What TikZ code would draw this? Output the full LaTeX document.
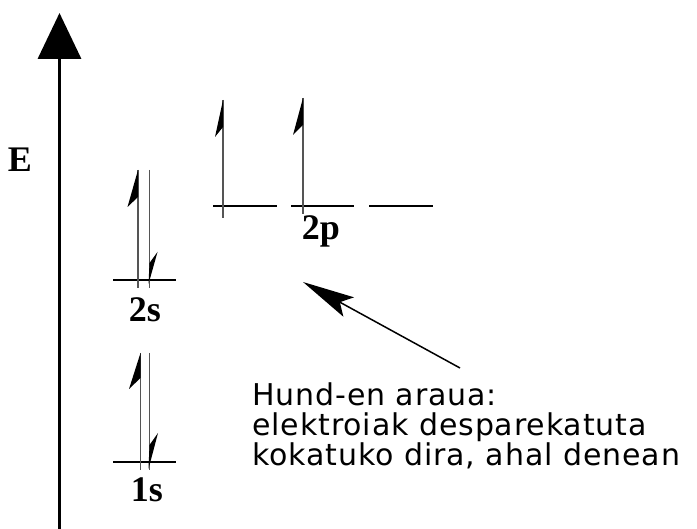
\documentclass[tikz,border=0pt]{standalone}
\usepackage{fontspec}
\setmainfont{Liberation Serif}
\newfontfamily\hundfont[LetterSpace=3]{DejaVu Sans}
\usepackage{tikz}
\usetikzlibrary{arrows.meta}
\usepackage{xcolor}
\definecolor{spingray}{HTML}{555555}

\begin{document}
\begin{tikzpicture}[
    x=1pt, y=-1pt,
    level/.style={line width=2.7pt},
    spin/.style={line width=1.2pt, spingray},
    barb/.style={fill=black},
    lbl/.style={font=\bfseries\fontsize{36}{36}\selectfont, inner sep=0pt, anchor=base}
  ]
    \useasboundingbox (0,0) rectangle (697,529);

    % energy axis
    \coordinate (axbot) at (59.5,529);
    \coordinate (axtop) at (59.5,13);
    \draw[line width=3.5pt, -{Triangle[length=46pt, width=43pt]}] (axbot) -- (axtop);
    \node[lbl] (lblE) at (20,172) {E};

    % 1s
    \draw[level] (113,462) -- (176,462);
    \draw[spin] (140.5,470) -- (140.5,353);
    \fill[barb] (140.5,353) -- (129,389) -- (140.5,378) -- cycle;
    \draw[spin] (149.5,353) -- (149.5,470);
    \fill[barb] (148.5,469) -- (158,433) -- (149.5,445) -- cycle;
    \node[lbl] (lbl1s) at (147,502) {1s};

    % 2s
    \draw[level] (113,280) -- (176,280);
    \draw[spin] (138,288) -- (138,170);
    \fill[barb] (138,170) -- (127.5,207) -- (138,197) -- cycle;
    \draw[spin] (149.5,170) -- (149.5,288);
    \fill[barb] (148.5,284) -- (157.5,252) -- (149.5,263) -- cycle;
    \node[lbl] (lbl2s) at (145,322) {2s};

    % 2p
    \draw[level] (213,206) -- (277,206);
    \draw[level] (291,206) -- (354,206);
    \draw[level] (369,206) -- (433,206);
    \draw[spin] (223,218) -- (223,100);
    \fill[barb] (223,100) -- (215,137) -- (223,127) -- cycle;
    \draw[spin] (303,214) -- (303,98);
    \fill[barb] (303,98) -- (293,135) -- (303,125) -- cycle;
    \node[lbl] (lbl2p) at (321,240) {2p};

    % Hund-en araua
    \node[font=\hundfont\fontsize{30}{30}\selectfont, align=left, anchor=north west,
          inner sep=0pt] (hund) at (252,383) {Hund-en araua:\\
      elektroiak desparekatuta\\
      kokatuko dira, ahal denean};
    \coordinate (hundtail) at (460,368);
    \coordinate (hundtip) at (303,282);
    \draw[line width=1.5pt, -{Stealth[length=52pt, width=22pt, inset=10pt]}] (hundtail) -- (hundtip);
  \end{tikzpicture}
\end{document}
